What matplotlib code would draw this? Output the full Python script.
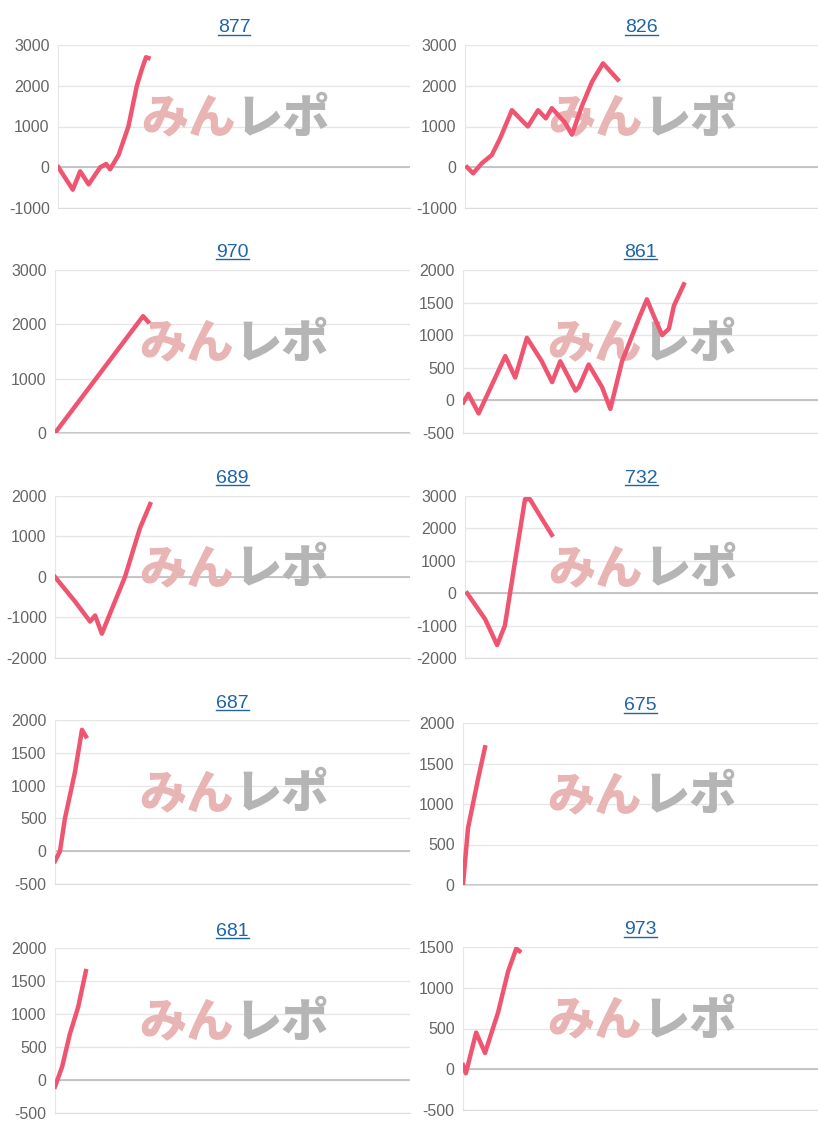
import matplotlib
matplotlib.use("Agg")
import matplotlib.pyplot as plt

titles = ["877", "826", "970", "861", "689", "732", "687", "675", "681", "973"]
# x as % of plot width, y values
xs = [
    [0.1, 4.2, 6.3, 8.7, 12.0, 13.7, 14.8, 17.2, 20.0, 22.4, 23.8, 25.0, 25.7],
    [0.6, 2.3, 4.8, 7.6, 9.9, 13.3, 17.8, 20.7, 22.9, 24.6, 28.3, 30.3, 33.1, 36.0, 39.1, 43.3],
    [0.0, 24.8, 26.2],
    [0.1, 1.5, 4.4, 11.9, 14.7, 18.0, 22.2, 25.1, 27.4, 31.7, 32.6, 35.4, 39.2, 41.5, 44.8, 49.5, 51.8, 53.7, 56.1, 58.0, 59.4, 62.2],
    [0.0, 5.6, 9.9, 11.3, 13.2, 16.9, 19.7, 23.9, 26.8],
    [0.6, 5.7, 9.1, 11.3, 14.2, 17.0, 18.4, 21.2, 24.6],
    [0.0, 1.4, 2.8, 5.6, 7.6, 8.7],
    [0.0, 1.4, 4.2, 6.2],
    [0.0, 2.0, 4.2, 6.5, 8.7],
    [0.0, 0.8, 3.7, 6.2, 9.9, 12.7, 15.0, 15.9],
]
ys = [
    [0, -550, -100, -420, 0, 80, -50, 300, 1000, 2000, 2400, 2700, 2680],
    [0, -150, 100, 300, 700, 1400, 1000, 1400, 1200, 1450, 1100, 800, 1500, 2100, 2550, 2150],
    [0, 2150, 2050],
    [-30, 100, -200, 680, 350, 960, 600, 280, 600, 150, 200, 550, 200, -130, 600, 1250, 1550, 1300, 1000, 1100, 1450, 1780],
    [0, -600, -1100, -950, -1400, -600, 0, 1200, 1800],
    [0, -800, -1600, -1000, 1000, 2900, 2900, 2400, 1800],
    [-150, 0, 500, 1200, 1850, 1750],
    [0, 700, 1300, 1700],
    [-100, 200, 700, 1100, 1650],
    [50, -50, 450, 200, 700, 1200, 1480, 1450],
]
yticks = [
    [-1000, 0, 1000, 2000, 3000],
    [-1000, 0, 1000, 2000, 3000],
    [0, 1000, 2000, 3000],
    [-500, 0, 500, 1000, 1500, 2000],
    [-2000, -1000, 0, 1000, 2000],
    [-2000, -1000, 0, 1000, 2000, 3000],
    [-500, 0, 500, 1000, 1500, 2000],
    [0, 500, 1000, 1500, 2000],
    [-500, 0, 500, 1000, 1500, 2000],
    [-500, 0, 500, 1000, 1500],
]

W, H = 818, 1130
boxes = [
    (58, 45, 410, 208), (465, 45, 818, 208),
    (55, 270, 410, 433), (463, 270, 818, 433),
    (55, 496, 410, 658), (465, 496, 818, 658),
    (55, 720, 410, 884), (463, 723, 818, 885),
    (55, 948, 410, 1113), (463, 947, 818, 1110),
]

plt.rcParams['font.family'] = ['Liberation Sans', 'DejaVu Sans']
fig = plt.figure(figsize=(W / 100, H / 100), dpi=100)
for i in range(10):
    l, t, r, b = boxes[i]
    ax = fig.add_axes([l / W, 1 - b / H, (r - l) / W, (b - t) / H])
    ax.plot(xs[i], ys[i], color='#ef5570', lw=3.2, solid_joinstyle='round', zorder=3)
    ax.set_xlim(0, 100)
    yt = yticks[i]
    ax.set_ylim(yt[0], yt[-1])
    ax.set_yticks(yt)
    ax.set_yticklabels([str(v) for v in yt], color='#666666', fontsize=11.5)
    ax.set_xticks([])
    ax.tick_params(axis='y', length=0, pad=6)
    ax.grid(axis='y', color='#e6e6e6', lw=1)
    ax.axhline(0, color='#bdbdbd', lw=1.2, zorder=1)
    for s in ['top', 'right']:
        ax.spines[s].set_visible(False)
    ax.spines['left'].set_color('#e6e6e6')
    ax.spines['bottom'].set_color('#dddddd')
    ax.set_axisbelow(True)
    ax.set_title(titles[i], color='#1f64a8', fontsize=14, pad=9)
    ax.text(0.37, 0.55, "みん", transform=ax.transAxes, ha='center', va='center',
            fontsize=34, fontweight='heavy', color='#e8b4b4', family=['Noto Sans CJK JP'], zorder=2)
    ax.text(0.64, 0.55, "レポ", transform=ax.transAxes, ha='center', va='center',
            fontsize=34, fontweight='heavy', color='#b5b5b5', family=['Noto Sans CJK JP'], zorder=2)
fig.canvas.draw()
for a in fig.axes:
    bb = a.title.get_window_extent()
    x0, x1 = bb.x0 / W, bb.x1 / W
    yy = (bb.y0 + 2) / H
    fig.add_artist(plt.Line2D([x0, x1], [yy, yy], color='#1f64a8', lw=1))
fig.savefig("out.png", dpi=100, facecolor='white')
